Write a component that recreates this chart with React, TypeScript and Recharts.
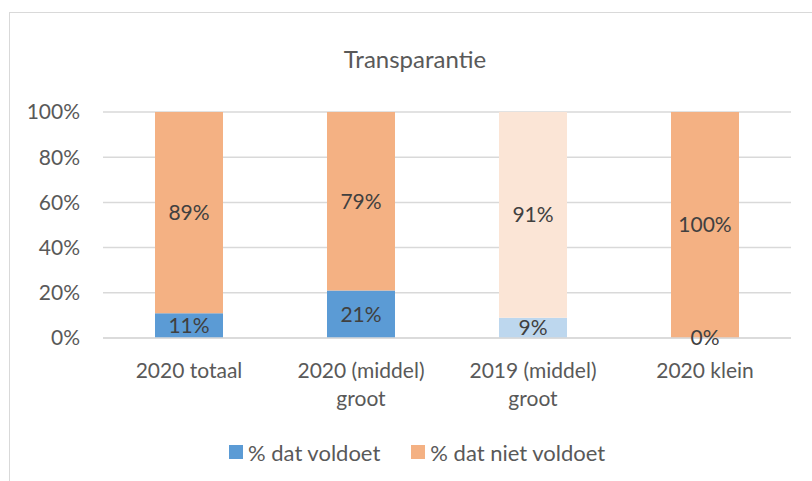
import React from "react";
import { BarChart, Bar, XAxis, YAxis, CartesianGrid, Legend, LabelList, Cell } from "recharts";

const categories = ["2020 totaal", "2020 (middel) groot", "2019 (middel) groot", "2020 klein"];
const voldoet = [11, 21, 9, 0];
const nietVoldoet = [89, 79, 91, 100];
const yTicks = [0, 20, 40, 60, 80, 100];
const seriesNames = ["% dat voldoet", "% dat niet voldoet"];
const title = "Transparantie";

const BLUE = "#5B9BD5";
const ORANGE = "#F4B183";
const BLUE_LIGHT = "#BDD7EE";
const ORANGE_LIGHT = "#FBE5D6";
const FONT = "Lato, 'Open Sans', sans-serif";

const data = categories.map((c, i) => ({ name: c, voldoet: voldoet[i], niet: nietVoldoet[i] }));

function wrap(text: string, max: number): string[] {
  const words = text.split(" ");
  const lines: string[] = [];
  let cur = "";
  for (const w of words) {
    const next = cur ? cur + " " + w : w;
    if (next.length > max && cur) {
      lines.push(cur);
      cur = w;
    } else cur = next;
  }
  if (cur) lines.push(cur);
  return lines;
}

const XTick = (props: any) => {
  const { x, y, payload } = props;
  const lines = wrap(String(payload.value), 13);
  return (
    <text x={x} y={y} textAnchor="middle" fill="#595959" fontSize={21} fontFamily={FONT}>
      {lines.map((l, i) => (
        <tspan key={i} x={x} dy={i === 0 ? 38 : 28}>
          {l}
        </tspan>
      ))}
    </text>
  );
};

const LegendContent = (props: any) => {
  const payload = [...(props.payload || [])].sort(
    (a: any, b: any) => seriesNames.indexOf(a.value) - seriesNames.indexOf(b.value)
  );
  return (
    <div style={{ display: "flex", alignItems: "center", fontFamily: FONT, fontSize: 22, color: "#595959", height: 30 }}>
      {payload.map((p: any, i: number) => (
        <div key={i} style={{ display: "flex", alignItems: "center", marginRight: 31 }}>
          <div style={{ width: 14, height: 14, background: p.color, marginRight: 5 }} />
          <span>{p.value}</span>
        </div>
      ))}
    </div>
  );
};

export default function App() {
  return (
    <div style={{ position: "absolute", left: 0, top: 0, width: 812, height: 481, overflow: "hidden", background: "#fff" }}>
      <div
        style={{
          position: "absolute",
          left: 9,
          top: 12,
          width: 900,
          height: 600,
          borderLeft: "1.7px solid #D9D9D9",
          borderTop: "1.7px solid #D9D9D9",
        }}
      />
      <div
        style={{
          position: "absolute",
          left: 215,
          width: 400,
          top: 44,
          textAlign: "center",
          fontFamily: FONT,
          fontSize: 24,
          color: "#595959",
        }}
      >
        {title}
      </div>
      <div style={{ position: "absolute", left: 0, top: 0 }}>
        <BarChart width={812} height={481} data={data} margin={{ top: 112, right: 21, bottom: 14, left: 0 }} barSize={68}>
          <CartesianGrid vertical={false} stroke="#D9D9D9" strokeWidth={1.5} />
          <YAxis
            width={103}
            domain={[0, 100]}
            ticks={yTicks}
            tickFormatter={(v: number) => `${v}%`}
            axisLine={false}
            tickLine={false}
            tickSize={0}
            tickMargin={23}
            tick={{ fill: "#595959", fontSize: 21, fontFamily: FONT }}
            interval={0}
          />
          <XAxis
            dataKey="name"
            height={99}
            axisLine={{ stroke: "#D9D9D9", strokeWidth: 1.5 }}
            tickLine={false}
            tickSize={0}
            tick={<XTick />}
            interval={0}
          />
          <Legend
            verticalAlign="bottom"
            content={<LegendContent />}
            wrapperStyle={{ left: 229, width: "auto", height: 30 }}
          />
          <Bar dataKey="voldoet" name={seriesNames[0]} stackId="a" fill={BLUE} minPointSize={1} isAnimationActive={false}>
            {data.map((_, i) => (
              <Cell key={i} fill={i === 2 ? BLUE_LIGHT : BLUE} />
            ))}
            <LabelList
              dataKey="voldoet"
              position="center"
              formatter={(v: any) => `${v}%`}
              fill="#404040"
              fontSize={21}
              fontFamily={FONT}
            />
          </Bar>
          <Bar dataKey="niet" name={seriesNames[1]} stackId="a" fill={ORANGE} isAnimationActive={false}>
            {data.map((_, i) => (
              <Cell key={i} fill={i === 2 ? ORANGE_LIGHT : ORANGE} />
            ))}
            <LabelList
              dataKey="niet"
              position="center"
              formatter={(v: any) => `${v}%`}
              fill="#404040"
              fontSize={21}
              fontFamily={FONT}
            />
          </Bar>
        </BarChart>
      </div>
    </div>
  );
}
